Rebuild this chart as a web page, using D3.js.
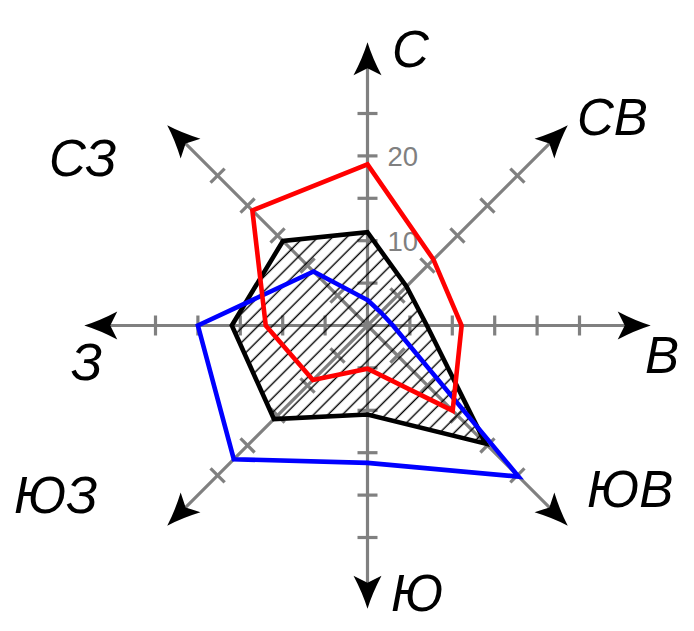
<!DOCTYPE html>
<html><head><meta charset="utf-8">
<script src="https://cdn.jsdelivr.net/npm/d3@7"></script>
<style>html,body{margin:0;padding:0;background:#fff}</style>
</head><body>
<svg id="c" width="694" height="631"></svg>
<script>
const directions = ["С","СВ","В","ЮВ","Ю","ЮЗ","З","СЗ"];
const redValues   = [19, 11, 11.1, 14.2, 5.1, 9.1, 12, 19.2];
const blackValues = [11, 6.5, 7, 19.7, 10.5, 15.6, 16, 14.1];
const blueValues  = [3, 2.2, 3, 25.2, 16.2, 22.3, 20, 9];
const tickValues = [5, 10, 15, 20, 25];
const tickLabels = [10, 20];

const cx = 367.5, cy = 325.5;
const r = d3.scaleLinear().domain([0, 5]).range([0, 42.4]);
const axisMax = 33.4;
const labelPos = [[392,67],[577,135],[645,373],[587,507],[391,611],[14,513],[71,380],[49,176]];

const svg = d3.select("#c");
const defs = svg.append("defs");
const pat = defs.append("pattern").attr("id","hatch").attr("patternUnits","userSpaceOnUse")
  .attr("width",10.2).attr("height",10.2).attr("patternTransform","rotate(45)");
pat.append("line").attr("x1",5).attr("y1",0).attr("x2",5).attr("y2",10.2)
  .attr("stroke","#000").attr("stroke-width",1.4);

const angle = i => i * Math.PI / 4; // 0 = north, clockwise
const pt = (i, v) => [cx + Math.sin(angle(i)) * r(v), cy - Math.cos(angle(i)) * r(v)];

const g = svg.append("g");
directions.forEach((d, i) => {
  const deg = angle(i) * 180 / Math.PI - 90;
  const ax = g.append("g").attr("transform", `translate(${cx},${cy}) rotate(${deg})`);
  const L = r(axisMax);
  ax.append("line").attr("x1",0).attr("y1",0).attr("x2",L-20).attr("y2",0)
    .attr("stroke","#808080").attr("stroke-width",3.2);
  tickValues.forEach(t => {
    ax.append("line").attr("x1", r(t)).attr("x2", r(t)).attr("y1",-10).attr("y2",10)
      .attr("stroke","#808080").attr("stroke-width",3.2);
  });
  ax.append("path").attr("transform",`translate(${L},0)`)
    .attr("d","M0,0 Q-16,-5 -33,-14 L-26,0 L-33,14 Q-16,5 0,0 Z").attr("fill","#000");
});
tickLabels.forEach(t => {
  g.append("text").attr("x", cx + 20).attr("y", cy - r(t) + 10)
    .attr("font-family","Liberation Sans, Arial, sans-serif").attr("font-size",27.5)
    .attr("fill","#808080").text(t);
});

const line = d3.line().curve(d3.curveLinearClosed);
g.append("path").attr("d", line(blackValues.map((v,i)=>pt(i,v)))).attr("fill","url(#hatch)").attr("stroke","none");
[{vals: blackValues, color:"#000"},{vals: blueValues, color:"#0000ff"},{vals: redValues, color:"#ff0000"}].forEach(p => {
  g.append("path").attr("d", line(p.vals.map((v,i)=>pt(i,v))))
    .attr("fill","none").attr("stroke",p.color).attr("stroke-width",4.6).attr("stroke-linejoin","miter");
});

directions.forEach((d, i) => {
  svg.append("text").attr("x", labelPos[i][0]).attr("y", labelPos[i][1])
    .attr("font-family","Liberation Sans, Arial, sans-serif").attr("font-style","italic")
    .attr("font-size",51).attr("fill","#000").text(d);
});
</script>
</body></html>
